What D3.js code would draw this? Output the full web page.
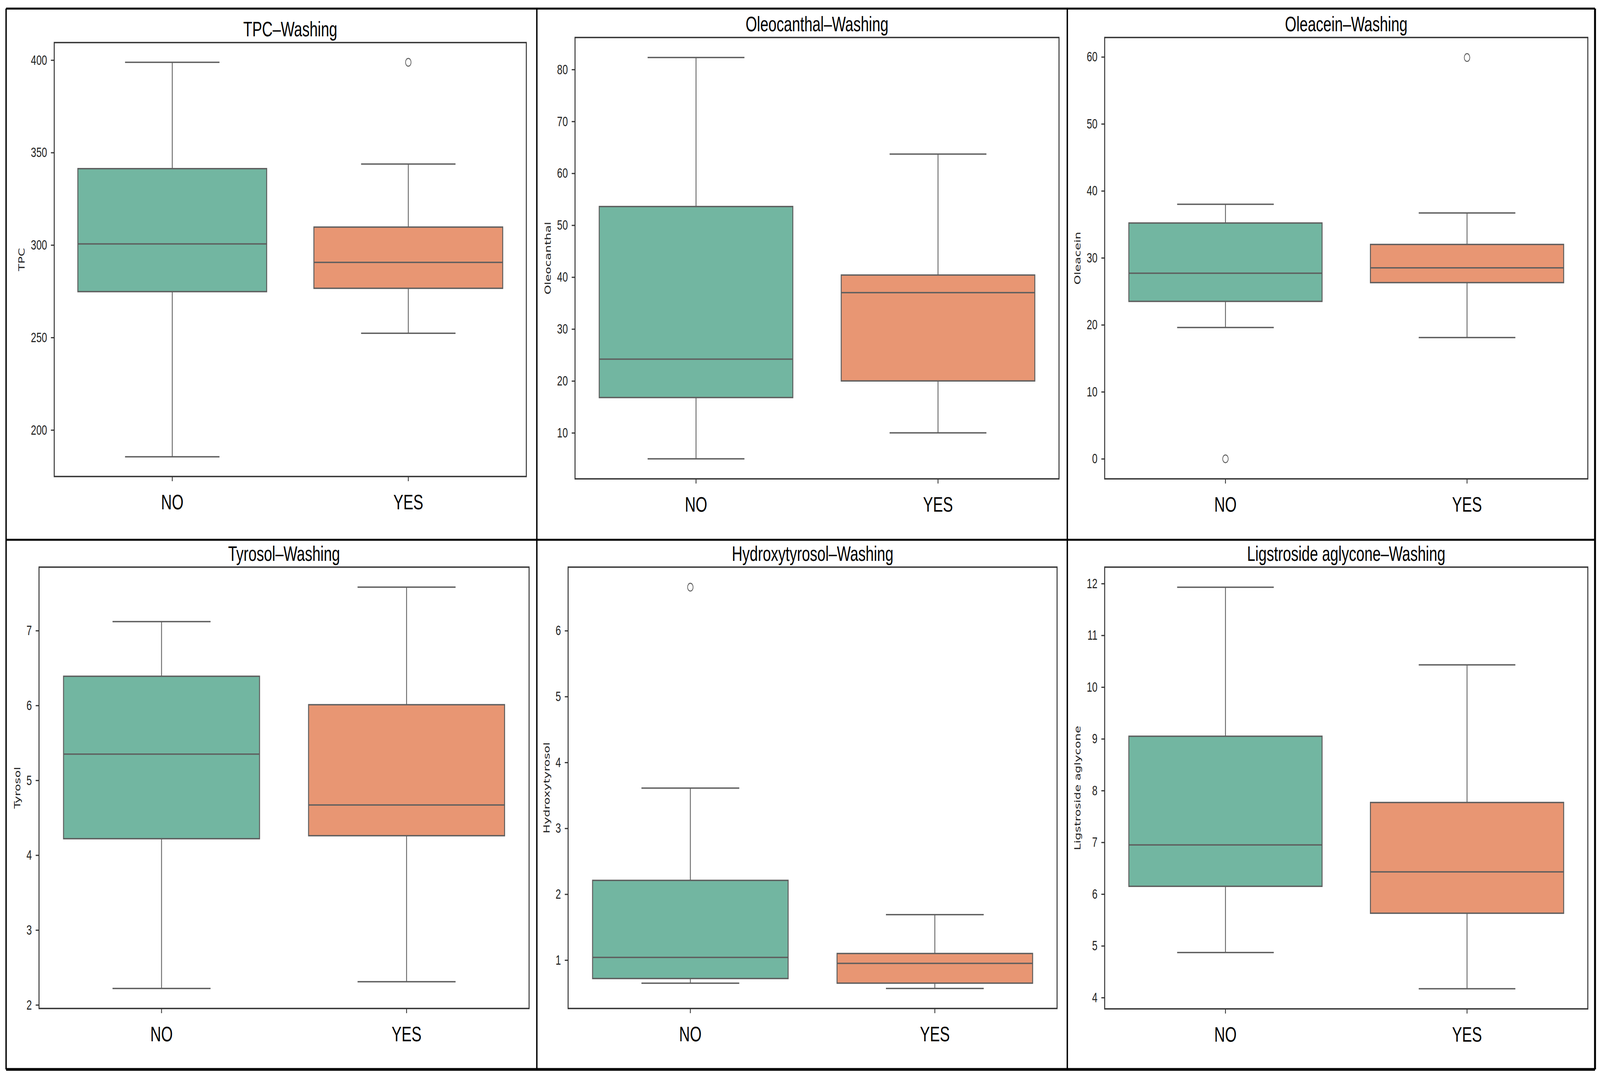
<!DOCTYPE html>
<html>
<head>
<meta charset="utf-8">
<script src="https://cdn.jsdelivr.net/npm/d3@7/dist/d3.min.js"></script>
<style>
  html, body { margin: 0; padding: 0; background: #fff; overflow: hidden; }
  /* the window can come out narrower than 5782px, so the drawing is stretched to fill it */
  #chart { display: block; width: 100vw; height: 100vh; }
</style>
</head>
<body>
<svg id="chart" viewBox="0 0 5782 2760" preserveAspectRatio="none"></svg>
<script>
// --- data ---
const groups = ['NO', 'YES'];
const metrics = ['TPC', 'Oleocanthal', 'Oleacein', 'Tyrosol', 'Hydroxytyrosol', 'Ligstroside aglycone'];

// [lower whisker, Q1, median, Q3, upper whisker]
const statsNo = [
  [185.5, 274.8, 300.6, 341.3, 398.8],
  [5.0, 16.8, 24.2, 53.6, 82.3],
  [19.6, 23.5, 27.7, 35.2, 38.0],
  [2.22, 4.22, 5.35, 6.39, 7.12],
  [0.65, 0.72, 1.04, 2.21, 3.61],
  [4.87, 6.15, 6.95, 9.05, 11.93]
];
const statsYes = [
  [252.3, 276.6, 290.6, 309.7, 343.8],
  [10.0, 20.0, 37.0, 40.4, 63.7],
  [18.1, 26.3, 28.5, 32.0, 36.7],
  [2.31, 4.26, 4.67, 6.01, 7.58],
  [0.57, 0.65, 0.95, 1.10, 1.69],
  [4.17, 5.63, 6.43, 7.77, 10.43]
];
const outliersNo = [[], [], [0], [], [6.66], []];
const outliersYes = [[398.8], [], [59.9], [], [], []];

const yTicks = [
  [200, 250, 300, 350, 400],
  [10, 20, 30, 40, 50, 60, 70, 80],
  [0, 10, 20, 30, 40, 50, 60],
  [2, 3, 4, 5, 6, 7],
  [1, 2, 3, 4, 5, 6],
  [4, 5, 6, 7, 8, 9, 10, 11, 12]
];

// --- layout ---
const cellX = [22, 1940, 3857, 5764];
const cellY = [22, 1382, 2738];
// plot area of each panel: [left, top, right, bottom]
const plotBoxes = [
  [196, 109, 1902, 1220],
  [2078, 96, 3827, 1226],
  [3992, 96, 5738, 1226],
  [141, 1452, 1912, 2582],
  [2053, 1452, 3820, 2582],
  [3992, 1452, 5738, 2583]
];

const fills = { NO: '#72b6a1', YES: '#e89673' };
const lineCol = '#5e5e5e';
const sansFont = '"Liberation Sans", Arial, sans-serif';

const svg = d3.select('#chart');

metrics.forEach((name, i) => {
  const [x0, y0, x1, y1] = plotBoxes[i];
  const all = statsNo[i].concat(statsYes[i], outliersNo[i], outliersYes[i]);
  const [lo, hi] = d3.extent(all);
  const pad = (hi - lo) * 0.05;

  const y = d3.scaleLinear().domain([lo - pad, hi + pad]).range([y1, y0]);
  const x = d3.scaleBand().domain(groups).range([x0, x1]);
  const bw = x.bandwidth();
  const boxW = bw * 0.8;
  const capW = bw * 0.4;

  const rows = groups.map(k => ({
    key: k,
    s: k === 'NO' ? statsNo[i] : statsYes[i],
    out: k === 'NO' ? outliersNo[i] : outliersYes[i]
  }));

  const g = svg.append('g');

  const box = g.selectAll('g.box').data(rows).join('g')
    .attr('class', 'box')
    .attr('transform', d => `translate(${x(d.key) + bw / 2},0)`);

  // whiskers
  box.append('line')
    .attr('x1', 0).attr('x2', 0)
    .attr('y1', d => y(d.s[0])).attr('y2', d => y(d.s[1]))
    .attr('stroke', lineCol).attr('stroke-width', 3);
  box.append('line')
    .attr('x1', 0).attr('x2', 0)
    .attr('y1', d => y(d.s[3])).attr('y2', d => y(d.s[4]))
    .attr('stroke', lineCol).attr('stroke-width', 3);
  // caps
  [0, 4].forEach(j => {
    box.append('line')
      .attr('x1', -capW / 2).attr('x2', capW / 2)
      .attr('y1', d => y(d.s[j])).attr('y2', d => y(d.s[j]))
      .attr('stroke', lineCol).attr('stroke-width', 3.5);
  });
  // box
  box.append('rect')
    .attr('x', -boxW / 2).attr('width', boxW)
    .attr('y', d => y(d.s[3]))
    .attr('height', d => y(d.s[1]) - y(d.s[3]))
    .attr('fill', d => fills[d.key])
    .attr('stroke', lineCol).attr('stroke-width', 3.5);
  // median
  box.append('line')
    .attr('x1', -boxW / 2).attr('x2', boxW / 2)
    .attr('y1', d => y(d.s[2])).attr('y2', d => y(d.s[2]))
    .attr('stroke', lineCol).attr('stroke-width', 3.5);
  // outliers
  box.selectAll('circle').data(d => d.out).join('circle')
    .attr('cx', 0).attr('cy', d => y(d)).attr('r', 10)
    .attr('fill', 'none').attr('stroke', lineCol).attr('stroke-width', 2.5);

  // y axis
  const ya = g.append('g')
    .attr('transform', `translate(${x0},0)`)
    .call(d3.axisLeft(y).tickValues(yTicks[i]).tickFormat(d3.format('d'))
      .tickSize(12).tickPadding(14).tickSizeOuter(0));
  ya.select('.domain').remove();
  ya.selectAll('line').attr('stroke', '#333').attr('stroke-width', 3);
  ya.selectAll('text')
    .attr('font-family', sansFont).attr('font-size', 35).attr('fill', '#222');

  // x axis
  const xa = g.append('g')
    .attr('transform', `translate(0,${y1})`)
    .call(d3.axisBottom(x).tickSize(12).tickPadding(34).tickSizeOuter(0));
  xa.select('.domain').remove();
  xa.selectAll('line').attr('stroke', '#333').attr('stroke-width', 3);
  xa.selectAll('text')
    .attr('font-family', sansFont).attr('font-size', 54).attr('fill', '#000');

  // spines
  g.append('rect')
    .attr('x', x0).attr('y', y0)
    .attr('width', x1 - x0).attr('height', y1 - y0)
    .attr('fill', 'none').attr('stroke', '#333').attr('stroke-width', 3.5);

  // y label, just left of the widest tick label
  const left = ya.node().getBBox().x + x0;
  g.append('text')
    .attr('transform', `translate(${left - 22},${(y0 + y1) / 2}) rotate(-90)`)
    .attr('text-anchor', 'middle')
    .attr('font-family', '"DejaVu Sans", sans-serif')
    .attr('font-size', 31).attr('fill', '#222')
    .text(name);

  // title
  g.append('text')
    .attr('x', (x0 + x1) / 2).attr('y', y0 - 16)
    .attr('text-anchor', 'middle')
    .attr('font-family', sansFont).attr('font-size', 53).attr('fill', '#000')
    .text(name + '\u2013Washing');
});

// outer panel frames
const frame = svg.append('g').attr('stroke', '#000').attr('fill', 'none');
cellX.forEach((cx, k) => {
  frame.append('line')
    .attr('x1', cx).attr('x2', cx)
    .attr('y1', cellY[0]).attr('y2', cellY[cellY.length - 1])
    .attr('stroke-width', k === cellX.length - 1 ? 7 : 5);
});
cellY.forEach((cy, k) => {
  frame.append('line')
    .attr('x1', cellX[0]).attr('x2', cellX[cellX.length - 1])
    .attr('y1', cy).attr('y2', cy)
    .attr('stroke-width', k === cellY.length - 1 ? 7 : 5);
});
</script>
</body>
</html>
